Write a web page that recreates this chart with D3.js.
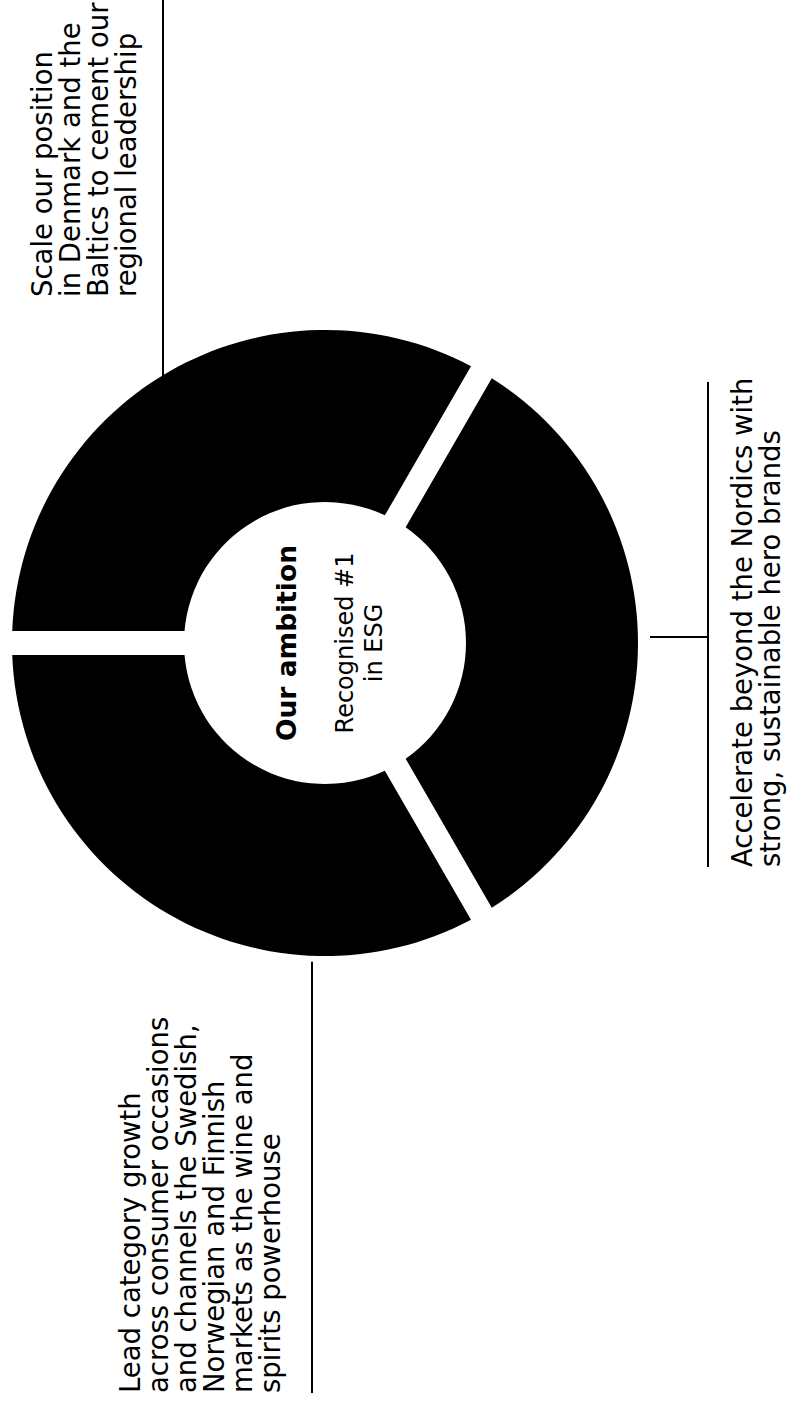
<!DOCTYPE html>
<html>
<head>
<meta charset="utf-8">
<script src="https://cdn.jsdelivr.net/npm/d3@7"></script>
<style>
  html, body { margin: 0; padding: 0; background: #fff; }
  svg { display: block; }
  text { font-family: "DejaVu Sans", sans-serif; fill: #000; }
</style>
</head>
<body>
<svg id="chart"></svg>
<script>
const WIDTH = 788;
const HEIGHT = 1402;

// the chart is laid out sideways: frame is HEIGHT wide, WIDTH tall, then turned -90deg
const FRAME_W = HEIGHT;
const FRAME_H = WIDTH;

const sliceNames = ["Scale", "Accelerate", "Lead"];
const sliceShares = [1, 1, 1];

const centreTitle = "Our ambition";
const centreLines = ["Recognised #1", "in ESG"];

const scaleLines = ["Scale our position", "in Denmark and the", "Baltics to cement our", "regional leadership"];
const accelLines = ["Accelerate beyond the Nordics with", "strong, sustainable hero brands"];
const leadLines = ["Lead category growth", "across consumer occasions", "and channels the Swedish,", "Norwegian and Finnish", "markets as the wine and", "spirits powerhouse"];

const CX = 759;
const CY = 325;
const R_OUT = 313;
const R_IN = 141;
const LABEL_SIZE = 27.5;
const LINE_STEP = 28;

const svg = d3.select("#chart").attr("width", WIDTH).attr("height", HEIGHT);
const frame = svg.append("g").attr("transform", `translate(0,${HEIGHT}) rotate(-90)`);

const pie = d3.pie().sort(null).value(d => d).padAngle(0.08);
const arc = d3.arc().innerRadius(R_IN).outerRadius(R_OUT).padRadius(300);

frame.append("g")
   .attr("transform", `translate(${CX},${CY})`)
   .selectAll("path")
   .data(pie(sliceShares))
   .enter()
   .append("path")
   .attr("class", (_, i) => "slice " + sliceNames[i])
   .attr("d", arc)
   .attr("fill", "#000");

// where a horizontal rule at row v meets the outer ring
const edgeAt = (v, side) => CX + side * Math.sqrt(R_OUT * R_OUT - (v - CY) * (v - CY));

const rules = [
   // Scale
   { x1: edgeAt(163, 1) - 2, y1: 163, x2: FRAME_W, y2: 163 },
   // Lead
   { x1: 9, y1: 312, x2: edgeAt(312, -1) - 6, y2: 312 },
   // Accelerate
   { x1: 535, y1: 708, x2: 1020, y2: 708 },
   { x1: 765, y1: CY + R_OUT + 12, x2: 765, y2: 708 }
];

frame.selectAll("line")
   .data(rules)
   .enter()
   .append("line")
   .attr("x1", d => d.x1).attr("y1", d => d.y1)
   .attr("x2", d => d.x2).attr("y2", d => d.y2)
   .attr("stroke", "#000")
   .attr("stroke-width", 2);

function block(lines, x, firstBaseline) {
   frame.append("g")
      .selectAll("text")
      .data(lines)
      .enter()
      .append("text")
      .attr("x", x)
      .attr("y", (_, i) => firstBaseline + i * LINE_STEP)
      .attr("font-size", LABEL_SIZE)
      .text(d => d);
}

block(scaleLines, 1105, 52);
block(leadLines, 9, 140);
block(accelLines, 535, 752);

// centre
frame.append("text")
   .attr("x", CX).attr("y", 296)
   .attr("text-anchor", "middle")
   .attr("font-size", 26.5)
   .attr("font-weight", "bold")
   .text(centreTitle);

frame.selectAll(".centre")
   .data(centreLines)
   .enter()
   .append("text")
   .attr("class", "centre")
   .attr("x", CX)
   .attr("y", (_, i) => 353 + i * 29)
   .attr("text-anchor", "middle")
   .attr("font-size", 24)
   .text(d => d);
</script>
</body>
</html>
